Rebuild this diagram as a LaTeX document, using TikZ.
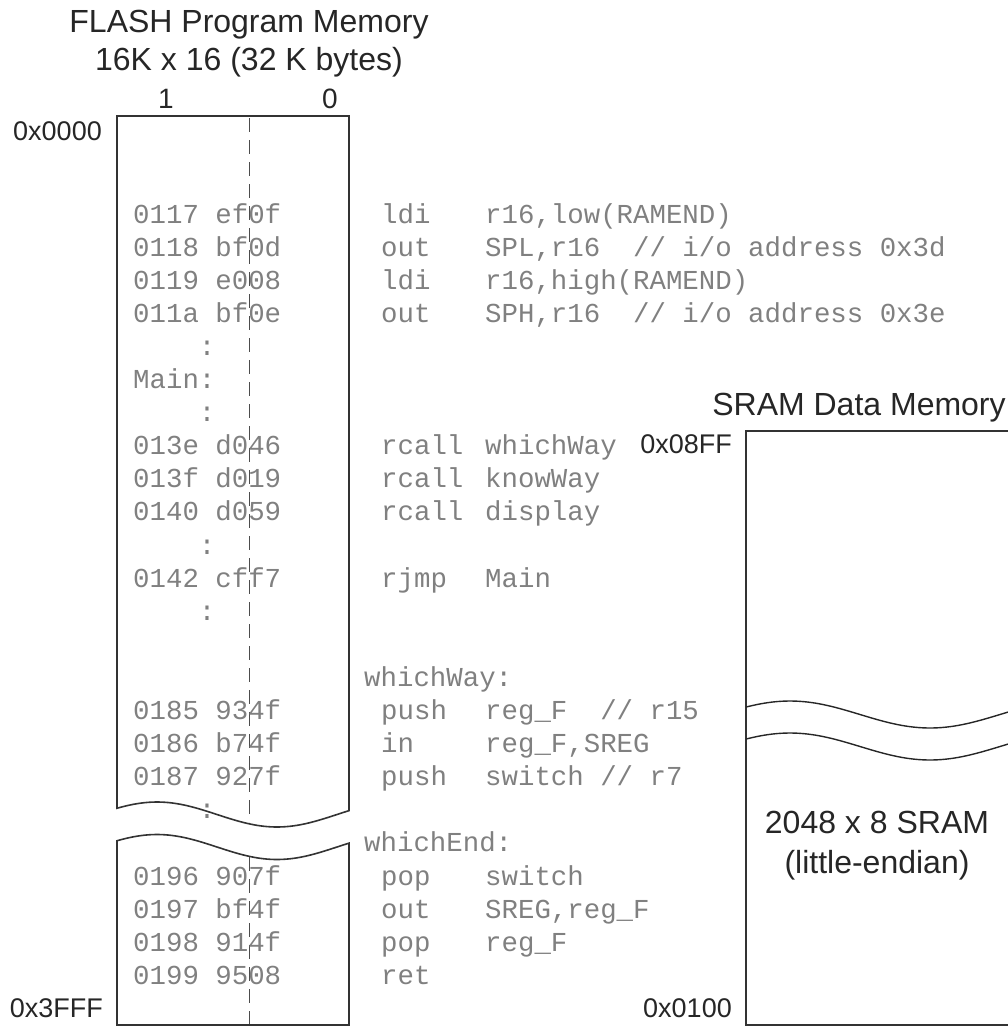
\documentclass[tikz,border=0pt]{standalone}
\usepackage{fontspec}
\setmainfont{Liberation Sans}
\setmonofont{Liberation Mono}

\tikzstyle{heading} = [font=\fontsize{32}{36}\selectfont, text=black!85, inner sep=0pt, anchor=base]
\tikzstyle{bitnum} = [font=\fontsize{28}{32}\selectfont, text=black!85, inner sep=0pt, anchor=base]
\tikzstyle{addr} = [font=\fontsize{27}{30}\selectfont, text=black!85, inner sep=0pt, anchor=base east]
\tikzstyle{listing} = [font=\ttfamily\fontsize{27.4}{30}\selectfont, text=black!50, inner sep=0pt, anchor=base west]
\tikzstyle{dots} = [listing, anchor=base]
\tikzstyle{memline} = [draw=black!80, line width=1.6pt]
\tikzstyle{bitline} = [draw=black!70, line width=1pt, dash pattern=on 14pt off 8pt]
\tikzstyle{wave} = [draw=black!85, line width=1.4pt]

\begin{document}
\begin{tikzpicture}[x=1pt,y=-1pt]
\useasboundingbox (0,0) rectangle (1008,1026);

% flash program memory
\node[heading] (flashttl) at (249,32) {FLASH Program Memory};
\node[heading] (flashsize) at (249,70) {16K x 16 (32 K bytes)};
\node[bitnum] (hibyte) at (166,108) {1};
\node[bitnum] (lobyte) at (330,108) {0};
\node[addr] (flashlo) at (102,140) {0x0000};
\node[addr] (flashhi) at (103,1017) {0x3FFF};

\draw[memline] (349,116) -- (117,116)
    -- plot[domain=117:349, samples=60, smooth] (\x, {814.5-12.5*sin(1.5*(\x-97))}) -- cycle;
\draw[memline] plot[domain=117:349, samples=60, smooth] (\x, {847-12.5*sin(1.5*(\x-97))})
    -- (349,1025) -- (117,1025) -- cycle;

\coordinate (bittop) at (249,118);
\coordinate (bitcut) at (249,822);
\coordinate (bitres) at (249,857);
\coordinate (bitbot) at (249,1024);
\draw[bitline] (bittop) -- (bitcut);
\draw[bitline] (bitres) -- (bitbot);

\node[listing] (w0117) at (133,223) {0117 ef0f};
\node[listing] (w0118) at (133,256.1) {0118 bf0d};
\node[listing] (w0119) at (133,289.2) {0119 e008};
\node[listing] (w011a) at (133,322.3) {011a bf0e};
\node[dots] (dots1) at (207,355.4) {:};
\node[listing] (mainlbl) at (133,388.5) {Main:};
\node[dots] (dots2) at (207,421.6) {:};
\node[listing] (w013e) at (133,454.7) {013e d046};
\node[listing] (w013f) at (133,487.8) {013f d019};
\node[listing] (w0140) at (133,520.9) {0140 d059};
\node[dots] (dots3) at (207,554) {:};
\node[listing] (w0142) at (133,587.1) {0142 cff7};
\node[dots] (dots4) at (207,620.2) {:};
\node[listing] (w0185) at (133,719.5) {0185 934f};
\node[listing] (w0186) at (133,752.6) {0186 b74f};
\node[listing] (w0187) at (133,785.7) {0187 927f};
\node[dots] (dots5) at (207,818.8) {:};
\node[listing] (w0196) at (133,885) {0196 907f};
\node[listing] (w0197) at (133,918.1) {0197 bf4f};
\node[listing] (w0198) at (133,951.2) {0198 914f};
\node[listing] (w0199) at (133,984.3) {0199 9508};

% assembly source
\node[listing] (i0117) at (381,223) {ldi};
\node[listing] (a0117) at (485,223) {r16,low(RAMEND)};
\node[listing] (i0118) at (381,256.1) {out};
\node[listing] (a0118) at (485,256.1) {SPL,r16\ \ // i/o address 0x3d};
\node[listing] (i0119) at (381,289.2) {ldi};
\node[listing] (a0119) at (485,289.2) {r16,high(RAMEND)};
\node[listing] (i011a) at (381,322.3) {out};
\node[listing] (a011a) at (485,322.3) {SPH,r16\ \ // i/o address 0x3e};
\node[listing] (i013e) at (381,454.7) {rcall};
\node[listing] (a013e) at (485,454.7) {whichWay};
\node[listing] (i013f) at (381,487.8) {rcall};
\node[listing] (a013f) at (485,487.8) {knowWay};
\node[listing] (i0140) at (381,520.9) {rcall};
\node[listing] (a0140) at (485,520.9) {display};
\node[listing] (i0142) at (381,587.1) {rjmp};
\node[listing] (a0142) at (485,587.1) {Main};
\node[listing] (waylbl) at (364,686.4) {whichWay:};
\node[listing] (i0185) at (381,719.5) {push};
\node[listing] (a0185) at (485,719.5) {reg\_F\ \ // r15};
\node[listing] (i0186) at (381,752.6) {in};
\node[listing] (a0186) at (485,752.6) {reg\_F,SREG};
\node[listing] (i0187) at (381,785.7) {push};
\node[listing] (a0187) at (485,785.7) {switch // r7};
\node[listing] (endlbl) at (364,851.9) {whichEnd:};
\node[listing] (i0196) at (381,885) {pop};
\node[listing] (a0196) at (485,885) {switch};
\node[listing] (i0197) at (381,918.1) {out};
\node[listing] (a0197) at (485,918.1) {SREG,reg\_F};
\node[listing] (i0198) at (381,951.2) {pop};
\node[listing] (a0198) at (485,951.2) {reg\_F};
\node[listing] (i0199) at (381,984.3) {ret};

% sram data memory
\node[heading] (sramttl) at (859,415) {SRAM Data Memory};
\node[addr] (sramhi) at (732,453) {0x08FF};
\node[addr] (sramlo) at (732,1017) {0x0100};
\draw[memline] (746,431) rectangle (1014,1025);
\draw[wave] plot[domain=746:1008, samples=60, smooth] (\x, {714.5-13.5*sin(360/280*(\x-720))});
\draw[wave] plot[domain=746:1008, samples=60, smooth] (\x, {746.5-13.5*sin(360/280*(\x-720))});
\node[heading] (sramsize) at (877,833) {2048 x 8 SRAM};
\node[heading] (sramend) at (877,873) {(little-endian)};
\end{tikzpicture}
\end{document}
